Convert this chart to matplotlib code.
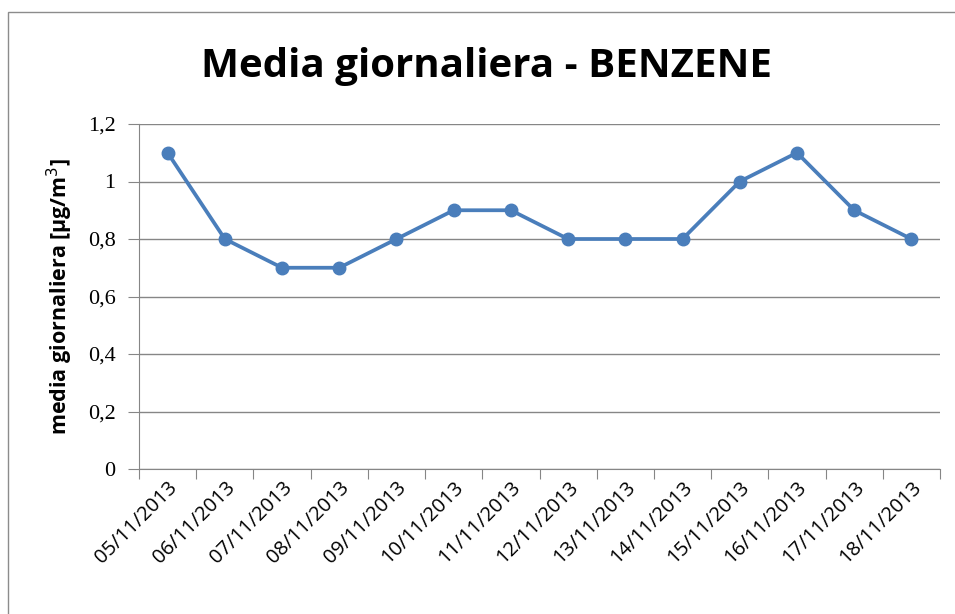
import numpy as np
import matplotlib.pyplot as plt
from matplotlib.patches import Rectangle
from matplotlib.ticker import FuncFormatter

dates = ['05/11/2013', '06/11/2013', '07/11/2013', '08/11/2013', '09/11/2013',
         '10/11/2013', '11/11/2013', '12/11/2013', '13/11/2013', '14/11/2013',
         '15/11/2013', '16/11/2013', '17/11/2013', '18/11/2013']
values = [1.1, 0.8, 0.7, 0.7, 0.8, 0.9, 0.9, 0.8, 0.8, 0.8, 1.0, 1.1, 0.9, 0.8]
yticks = [0, 0.2, 0.4, 0.6, 0.8, 1.0, 1.2]


def comma_fmt(v, pos):
    s = ('%.1f' % v).rstrip('0').rstrip('.')
    return s.replace('.', ',')


def main():
    fig = plt.figure(figsize=(9.55, 6.14), dpi=100)
    ax = fig.add_axes([139 / 955, 1 - 469 / 614, 801 / 955, 345 / 614])

    x = np.arange(len(values))
    ax.plot(x, values, color='#4A7EBB', linewidth=2.7, marker='o',
            markersize=9, zorder=3)

    ax.set_xlim(-0.5, len(values) - 0.5)
    ax.set_ylim(0, 1.2)
    ax.set_yticks(yticks)
    ax.yaxis.set_major_formatter(FuncFormatter(comma_fmt))
    ax.grid(axis='y', color='#868686', linewidth=1)
    ax.set_axisbelow(True)

    # tick marks between categories, labels at the centres
    ax.set_xticks(np.arange(len(values) + 1) - 0.5)
    ax.set_xticklabels([])
    ax.set_xticks(x, minor=True)
    ax.set_xticklabels(dates, minor=True, rotation=45, ha='right',
                       rotation_mode='anchor', fontsize=14.5, family='Open Sans')
    ax.tick_params(axis='x', which='minor', length=0, pad=6)
    ax.tick_params(axis='x', which='major', length=7, color='#868686')
    ax.tick_params(axis='y', length=8, color='#868686', labelsize=16, pad=9)
    for lbl in ax.get_yticklabels():
        lbl.set_family('Liberation Serif')

    for side in ['top', 'right']:
        ax.spines[side].set_visible(False)
    for side in ['left', 'bottom']:
        ax.spines[side].set_color('#868686')

    ax.set_ylabel('media giornaliera [µg/m$^3$]', fontsize=15.5,
                  fontweight='bold', family='Open Sans', labelpad=9)
    fig.text(486 / 955, 1 - 66 / 614, 'Media giornaliera - BENZENE',
             ha='center', va='center', fontsize=29, fontweight='bold',
             family='Open Sans')

    fig.patches.append(Rectangle((8 / 955, -0.1), 2, 1.1 - 12 / 614,
                                 transform=fig.transFigure, fill=False,
                                 edgecolor='#8C8C8C', linewidth=1))
    fig.savefig('out.png', dpi=100)


if __name__ == "__main__":
    main()
